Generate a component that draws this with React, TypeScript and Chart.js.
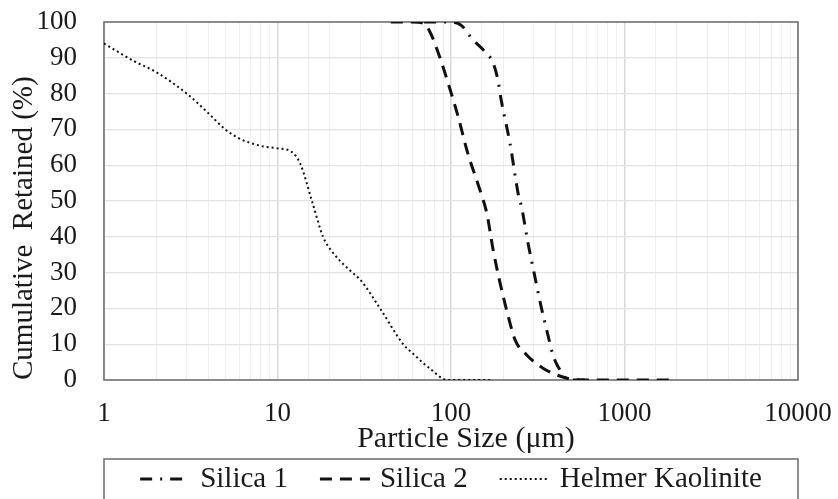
import React, { useEffect, useRef } from 'react';
import { Chart, registerables } from 'chart.js';

Chart.register(...registerables);

// ---- Data ----
const silica1Size = [70, 100, 115, 134, 155, 175, 186, 195, 219, 244, 256, 276, 301, 329, 363, 387, 414, 480, 600];
const silica1Retained = [100, 100, 99, 95, 92, 88.5, 84, 78, 66, 52, 48, 39, 30, 21, 12.3, 7, 3.7, 0, 0];

const silica2Size = [45, 60, 70, 76, 86, 99, 110, 125, 147, 161, 175, 192, 214, 234, 273, 339, 466, 600, 1000, 2000];
const silica2Retained = [100, 100, 99.5, 97, 90.3, 81, 73.5, 63.3, 53, 46.5, 36.3, 27, 17.7, 11.2, 7, 3.3, 0.5, 0, 0, 0];

const kaoliniteSize = [1, 1.5, 2, 3, 4, 5, 6, 8, 10, 12, 13.5, 15.8, 18.3, 21, 27, 30, 39, 53, 60, 75, 96, 120, 175];
const kaoliniteRetained = [94, 89, 86, 80, 74.5, 70, 67.5, 65.4, 64.7, 63.8, 60.5, 50, 40, 35.4, 30, 28, 20, 10, 7.5, 3.3, 0, 0, 0];

const seriesLabels = ['Silica 1', 'Silica 2', 'Helmer Kaolinite'];
const xTickLabels = [1, 10, 100, 1000, 10000];
const xTitle = '    Particle Size (\u03bcm)';
const yTitle = 'Cumulative  Retained (%)';

const FONT = '"Liberation Serif", "Times New Roman", serif';

const toPoints = (xs: number[], ys: number[]) => xs.map((x, i) => ({ x, y: ys[i] }));

const isDecade = (v: number) => {
  const l = Math.log10(v);
  return Math.abs(l - Math.round(l)) < 1e-9;
};

const framePlugin = {
  id: 'frame',
  beforeDatasetsDraw(chart: any) {
    const { ctx, chartArea } = chart;
    ctx.save();
    ctx.strokeStyle = '#6b6b6b';
    ctx.lineWidth = 1.5;
    ctx.strokeRect(chartArea.left, chartArea.top, chartArea.right - chartArea.left, chartArea.bottom - chartArea.top);
    ctx.restore();
  },
};

const boxLegendPlugin = {
  id: 'boxLegend',
  afterDraw(chart: any) {
    const { ctx, chartArea } = chart;
    const top = chartArea.bottom + 79;
    const cy = chartArea.bottom + 99;
    ctx.save();
    ctx.strokeStyle = '#6b6b6b';
    ctx.lineWidth = 1.5;
    ctx.strokeRect(chartArea.left, top, chartArea.right - chartArea.left, 70);
    ctx.font = `29px ${FONT}`;
    const sampleW = 50;
    const gap = 10;
    const itemGap = 32;
    const items = chart.data.datasets.map((ds: any) => ({
      label: ds.label,
      dash: ds.borderDash || [],
      lw: ds.borderWidth,
      w: ctx.measureText(ds.label).width,
    }));
    const total =
      items.reduce((s: number, it: any) => s + sampleW + gap + it.w, 0) + itemGap * (items.length - 1);
    let x = (chartArea.left + chartArea.right) / 2 - total / 2;
    items.forEach((it: any) => {
      ctx.beginPath();
      ctx.setLineDash(it.dash);
      ctx.lineWidth = it.lw;
      ctx.strokeStyle = '#111';
      ctx.moveTo(x, cy);
      ctx.lineTo(x + sampleW, cy);
      ctx.stroke();
      ctx.setLineDash([]);
      x += sampleW + gap;
      ctx.fillStyle = '#1a1a1a';
      ctx.textBaseline = 'middle';
      ctx.textAlign = 'left';
      ctx.fillText(it.label, x, cy);
      x += it.w + itemGap;
    });
    ctx.restore();
  },
};

export default function App() {
  const canvasRef = useRef<HTMLCanvasElement | null>(null);

  useEffect(() => {
    document.body.style.margin = '0';
    const canvas = canvasRef.current;
    if (!canvas) return;

    const chart = new Chart(canvas, {
      type: 'line',
      data: {
        datasets: [
          {
            label: seriesLabels[0],
            data: toPoints(silica1Size, silica1Retained),
            borderColor: '#111',
            borderWidth: 3,
            borderDash: [12, 8, 2, 8],
            pointRadius: 0,
            cubicInterpolationMode: 'monotone',
            fill: false,
          },
          {
            label: seriesLabels[1],
            data: toPoints(silica2Size, silica2Retained),
            borderColor: '#111',
            borderWidth: 3,
            borderDash: [12, 8],
            pointRadius: 0,
            cubicInterpolationMode: 'monotone',
            fill: false,
          },
          {
            label: seriesLabels[2],
            data: toPoints(kaoliniteSize, kaoliniteRetained),
            borderColor: '#111',
            borderWidth: 2,
            borderDash: [2, 3],
            pointRadius: 0,
            cubicInterpolationMode: 'monotone',
            fill: false,
          },
        ],
      },
      options: {
        responsive: false,
        animation: false,
        events: [],
        layout: { padding: { left: 0, right: 40, top: 22, bottom: 42 } },
        plugins: {
          legend: { display: false },
          tooltip: { enabled: false },
        },
        scales: {
          x: {
            type: 'logarithmic',
            min: 1,
            max: 10000,
            border: { display: false },
            grid: {
              drawTicks: false,
              color: (c: any) => (c.tick && isDecade(c.tick.value) ? '#d9d9d9' : '#efefef'),
              lineWidth: (c: any) => (c.tick && isDecade(c.tick.value) ? 1.5 : 1),
            },
            ticks: {
              autoSkip: false,
              maxRotation: 0,
              padding: 18,
              color: '#1a1a1a',
              font: { family: FONT, size: 27 },
              callback: (v: any) => (xTickLabels.includes(Number(v)) ? String(v) : ''),
            },
            title: {
              display: true,
              text: xTitle,
              color: '#1a1a1a',
              font: { family: FONT, size: 30 },
              padding: { top: 0, bottom: 0 },
            },
            afterFit: (s: any) => {
              s.height = 77;
              s.paddingLeft = 0;
              s.paddingRight = 0;
            },
          },
          y: {
            min: 0,
            max: 100,
            border: { display: false },
            grid: { drawTicks: false, color: '#e3e3e3', lineWidth: 1.2 },
            ticks: {
              stepSize: 10,
              autoSkip: false,
              padding: 27,
              color: '#1a1a1a',
              font: { family: FONT, size: 27 },
            },
            title: {
              display: true,
              text: yTitle,
              align: 'start',
              color: '#1a1a1a',
              font: { family: FONT, size: 29 },
              padding: { top: 7, bottom: 0 },
            },
            afterFit: (s: any) => {
              s.width = 104;
              s.paddingTop = 0;
              s.paddingBottom = 0;
            },
          },
        },
      },
      plugins: [framePlugin, boxLegendPlugin],
    } as any);

    return () => chart.destroy();
  }, []);

  return (
    <div style={{ width: 838, height: 499 }}>
      <canvas ref={canvasRef} width={838} height={499} style={{ display: 'block' }} />
    </div>
  );
}
